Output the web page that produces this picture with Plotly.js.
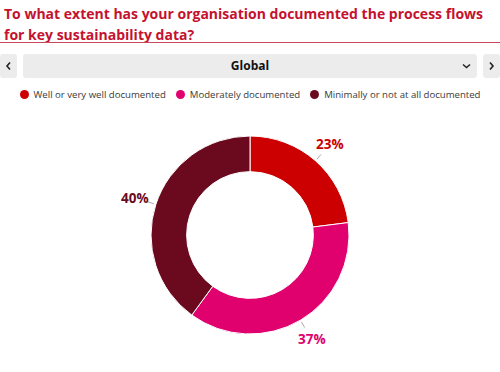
<!DOCTYPE html>
<html>
<head>
<meta charset="utf-8">
<script src="https://cdn.plot.ly/plotly-3.0.1.min.js"></script>
<style>
  html, body { margin:0; padding:0; width:500px; height:372px; background:#fff; overflow:hidden; font-family:"Open Sans", sans-serif; }
  #title { position:absolute; left:4px; top:3px; width:495px; color:#c4122f; font-weight:700; font-size:14px; line-height:21px; }
  #rule { position:absolute; left:0; top:42px; width:500px; height:1px; background:#c9495a; }
  .btn { position:absolute; top:54px; width:17px; height:24px; background:#ececec; border-radius:3px; }
  .btn svg, #drop svg { position:absolute; }
  #drop { position:absolute; left:23px; top:54px; width:454px; height:24px; background:#ececec; border-radius:3px; }
  #drop .lbl { position:absolute; left:0; right:0; top:0; text-align:center; font-weight:700; font-size:12px; line-height:24px; color:#111; }
  #legend { position:absolute; left:0; top:88px; width:500px; display:flex; justify-content:center; font-size:9.6px; color:#3a3a3a; }
  #legend .item { display:flex; align-items:center; margin:0 5px; }
  #legend .dot { width:9px; height:9px; border-radius:50%; margin-right:5px; }
  #chart { position:absolute; left:0; top:105px; width:500px; height:267px; }
</style>
</head>
<body>
<div id="title">To what extent has your organisation documented the process flows<br>for key sustainability data?</div>
<div id="rule"></div>
<div class="btn" style="left:0"><svg width="17" height="24"><polyline points="10,8.5 7,12 10,15.5" fill="none" stroke="#222" stroke-width="1.6"/></svg></div>
<div id="drop"><div class="lbl">Global</div><svg width="454" height="24"><polyline points="440,10.5 443.5,13.5 447,10.5" fill="none" stroke="#222" stroke-width="1.5"/></svg></div>
<div class="btn" style="left:483px"><svg width="17" height="24"><polyline points="7,8.5 10,12 7,15.5" fill="none" stroke="#222" stroke-width="1.6"/></svg></div>
<div id="legend"></div>
<div id="chart"></div>
<script>
const categories = ["Well or very well documented", "Moderately documented", "Minimally or not at all documented"];
const values = [23, 37, 40];
const colors = ["#cc0000", "#e0006e", "#6b0a1e"];
const region = "Global";

// legend
const leg = document.getElementById("legend");
categories.forEach((c, i) => {
  const it = document.createElement("div"); it.className = "item";
  const d = document.createElement("span"); d.className = "dot"; d.style.background = colors[i];
  const t = document.createElement("span"); t.textContent = c;
  it.appendChild(d); it.appendChild(t); leg.appendChild(it);
});

const W = 500, H = 267;
const dom = {x:[151/W, 349/W], y:[38/H, 236/H]};
const cx = (dom.x[0] + dom.x[1]) / 2 * W;
const cy = (dom.y[0] + dom.y[1]) / 2 * H; // from bottom
const R = (dom.x[1] - dom.x[0]) * W / 2;

const total = values.reduce((a, b) => a + b, 0);
const annotations = [], shapes = [];
let acc = 0;
values.forEach((v, i) => {
  const mid = (acc + v / 2) / total * 2 * Math.PI;
  acc += v;
  const px = r => cx + r * Math.sin(mid);
  const py = r => cy + r * Math.cos(mid);
  annotations.push({
    xref:"paper", yref:"paper", x:px(R + 22) / W, y:py(R + 22) / H,
    xanchor:"center", yanchor:"middle", showarrow:false,
    text: Math.round(v / total * 100) + "%",
    font:{family:"Open Sans", size:13.5, color:colors[i], weight:700}
  });
  shapes.push({
    type:"line", xref:"paper", yref:"paper",
    x0:px(R + 2) / W, y0:py(R + 2) / H, x1:px(R + 8.5) / W, y1:py(R + 8.5) / H,
    line:{color:"#a0a0a0", width:0.9}
  });
});

Plotly.newPlot("chart", [{
  type:"pie", labels:categories, values:values, hole:0.64, sort:false,
  direction:"clockwise", rotation:0, domain:dom,
  marker:{colors:colors, line:{color:"#ffffff", width:1}},
  textinfo:"none", hoverinfo:"label+percent", showlegend:false
}], {
  width:W, height:H, margin:{l:0, r:0, t:0, b:0},
  paper_bgcolor:"rgba(0,0,0,0)", plot_bgcolor:"rgba(0,0,0,0)",
  showlegend:false, annotations:annotations, shapes:shapes
}, {displayModeBar:false, staticPlot:true});
</script>
</body>
</html>
